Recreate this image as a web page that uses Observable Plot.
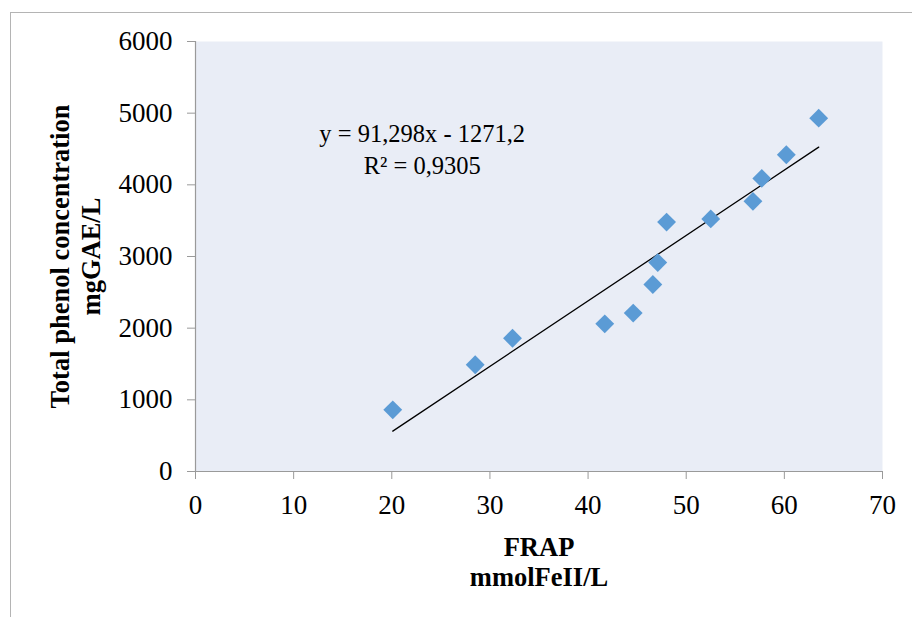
<!DOCTYPE html>
<html><head><meta charset="utf-8">
<script src="https://cdn.jsdelivr.net/npm/d3@7"></script>
<script src="https://cdn.jsdelivr.net/npm/@observablehq/plot@0.6"></script>
<style>
body{margin:0;background:#fff;}
#wrap{position:relative;width:912px;height:617px;overflow:hidden;}
#border{position:absolute;left:10px;top:12px;width:920px;height:620px;border-top:1px solid #b4b4b4;border-left:1px solid #b4b4b4;}
#chart{position:absolute;left:0;top:0;}
#chart svg text{font-family:'Liberation Serif','Times New Roman',serif;}
</style></head><body>
<div id="wrap"><div id="border"></div><div id="chart"></div></div>
<script>
// Data
const frap = [20.1, 28.5, 32.3, 41.7, 44.6, 46.6, 47.1, 48.0, 52.5, 56.8, 57.7, 60.2, 63.5];
const phenol = [860, 1490, 1860, 2060, 2210, 2610, 2915, 3480, 3525, 3770, 4090, 4420, 4930];
const xTicks = [0, 10, 20, 30, 40, 50, 60, 70];
const yTicks = [0, 1000, 2000, 3000, 4000, 5000, 6000];
const slope = 91.298;
const intercept = -1271.2;
const equationLines = ["y = 91,298x - 1271,2", "R² = 0,9305"];
const xTitleLines = ["FRAP", "mmolFeII/L"];
const yTitleLines = ["Total phenol concentration", "mgGAE/L"];

const points = frap.map((x, i) => ({x, y: phenol[i]}));
const trend = d3.extent(frap).map(x => ({x, y: slope * x + intercept}));
const serif = "'Liberation Serif', 'Times New Roman', serif";

const chart = Plot.plot({
  width: 912,
  height: 617,
  marginLeft: 195,
  marginRight: 30,
  marginTop: 41,
  marginBottom: 146,
  style: {fontFamily: serif, background: "transparent", color: "#000"},
  x: {domain: [0, 70], ticks: xTicks},
  y: {domain: [0, 6000], ticks: yTicks},
  marks: [
    Plot.frame({fill: "#E9EDF6"}),
    Plot.ruleX([0], {stroke: "#9a9a9a", strokeWidth: 1.2}),
    Plot.ruleY([0], {stroke: "#9a9a9a", strokeWidth: 1.2}),
    Plot.axisX({ticks: xTicks, tickSize: 8, tickPadding: 15, fontSize: 27, fontFamily: serif, fontVariant: "normal", stroke: "#9a9a9a", fill: "#000", label: null, tickFormat: d3.format("d")}),
    Plot.axisY({ticks: yTicks, tickSize: 8, tickPadding: 15, fontSize: 27, fontFamily: serif, fontVariant: "normal", stroke: "#9a9a9a", fill: "#000", label: null, tickFormat: d3.format("d")}),
    Plot.line(trend, {x: "x", y: "y", stroke: "#000", strokeWidth: 1.3}),
    Plot.dot(points, {x: "x", y: "y", symbol: "diamond2", r: 8.5, fill: "#5B9BD5"}),
    Plot.text([equationLines.join("\n")], {x: 23.1, y: 4900, text: d => d, fontSize: 24.5, fontFamily: serif, lineAnchor: "top", textAnchor: "middle", lineHeight: 1.27, fill: "#000"}),
    Plot.text([xTitleLines.join("\n")], {frameAnchor: "bottom", text: d => d, dy: 63, fontSize: 26.5, fontFamily: serif, fontWeight: "bold", lineAnchor: "top", textAnchor: "middle", lineHeight: 1.13, fill: "#000"}),
    Plot.text([yTitleLines.join("\n")], {frameAnchor: "left", text: d => d, dx: -148, rotate: -90, fontSize: 26.5, fontFamily: serif, fontWeight: "bold", lineAnchor: "top", textAnchor: "middle", lineHeight: 1.15, fill: "#000"})
  ]
});
document.getElementById("chart").appendChild(chart);
</script>
</body></html>
